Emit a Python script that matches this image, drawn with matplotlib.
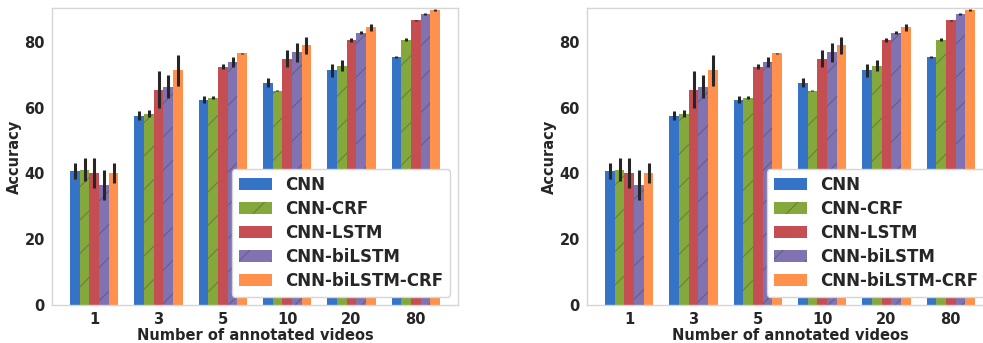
import matplotlib
matplotlib.use("Agg")
import matplotlib.pyplot as plt
import numpy as np

groups = ['1', '3', '5', '10', '20', '80']
series_names = ['CNN', 'CNN-CRF', 'CNN-LSTM', 'CNN-biLSTM', 'CNN-biLSTM-CRF']
cnn = [40.8, 57.6, 62.4, 67.6, 71.3, 75.5]
cnn_err = [2.5, 1.4, 1.1, 1.4, 1.9, 0.3]
cnn_crf = [41.1, 58.2, 63.0, 65.2, 72.8, 80.7]
cnn_crf_err = [3.5, 1.0, 0.5, 0.2, 1.8, 0.4]
cnn_lstm = [40.2, 65.5, 72.5, 74.9, 80.7, 86.5]
cnn_lstm_err = [4.6, 5.7, 0.8, 2.5, 0.6, 0.3]
cnn_bilstm = [36.5, 66.4, 74.0, 76.8, 82.8, 88.6]
cnn_bilstm_err = [4.6, 3.6, 1.5, 2.9, 0.5, 0.3]
cnn_bilstm_crf = [40.2, 71.3, 76.5, 78.9, 84.4, 89.8]
cnn_bilstm_crf_err = [3.0, 4.6, 0.2, 2.5, 1.0, 0.3]

values = [cnn, cnn_crf, cnn_lstm, cnn_bilstm, cnn_bilstm_crf]
errors = [cnn_err, cnn_crf_err, cnn_lstm_err, cnn_bilstm_err, cnn_bilstm_crf_err]
colors = ['#3473c6', '#84a83b', '#c44e52', '#8172b2', '#ff914d']
hatches = ['', '/', '', '/', '']

plt.rcParams['font.family'] = ['DejaVu Sans']
plt.rcParams['font.weight'] = 'bold'
plt.rcParams['hatch.color'] = (0.25, 0.25, 0.25, 0.4)
plt.rcParams['hatch.linewidth'] = 0.8

fig = plt.figure(figsize=(9.83, 3.43), dpi=100)
W, H = 983, 343
bottom = (H - 305) / H
height = (305 - 8) / H
lefts = [51.7, 586.7]
width_ax = 406.6

x = np.arange(len(groups))
bw = 0.15
for lx in lefts:
    ax = fig.add_axes([lx / W, bottom, width_ax / W, height])
    for i, (vals, errs) in enumerate(zip(values, errors)):
        ax.bar(x + (i - 2) * bw, vals, bw, yerr=errs, color=colors[i],
               hatch=hatches[i], linewidth=0, label=series_names[i],
               error_kw=dict(ecolor='#262626', elinewidth=2.2, capsize=0))
    ax.set_ylim(0, 90.3)
    ax.set_xticks(x)
    ax.set_xticklabels(groups)
    ax.set_yticks([0, 20, 40, 60, 80])
    ax.tick_params(length=0, labelsize=10.5, pad=5)
    for lab in ax.get_xticklabels() + ax.get_yticklabels():
        lab.set_fontweight('bold')
        lab.set_color('#262626')
    ax.set_xlabel('Number of annotated videos', fontsize=10.5, fontweight='bold',
                  color='#262626', labelpad=1)
    ax.set_ylabel('Accuracy', fontsize=10.5, fontweight='bold', color='#262626',
                  labelpad=1.5)
    for s in ax.spines.values():
        s.set_color('#d5d5d5')
        s.set_linewidth(1.0)
    leg = ax.legend(loc='lower right', prop=dict(size=12, weight='bold'),
                    framealpha=1.0, fancybox=True, labelspacing=0.36)
    leg.get_frame().set_edgecolor('#d5d5d5')
    for t in leg.get_texts():
        t.set_color('#262626')

fig.savefig('out.png', dpi=100)
